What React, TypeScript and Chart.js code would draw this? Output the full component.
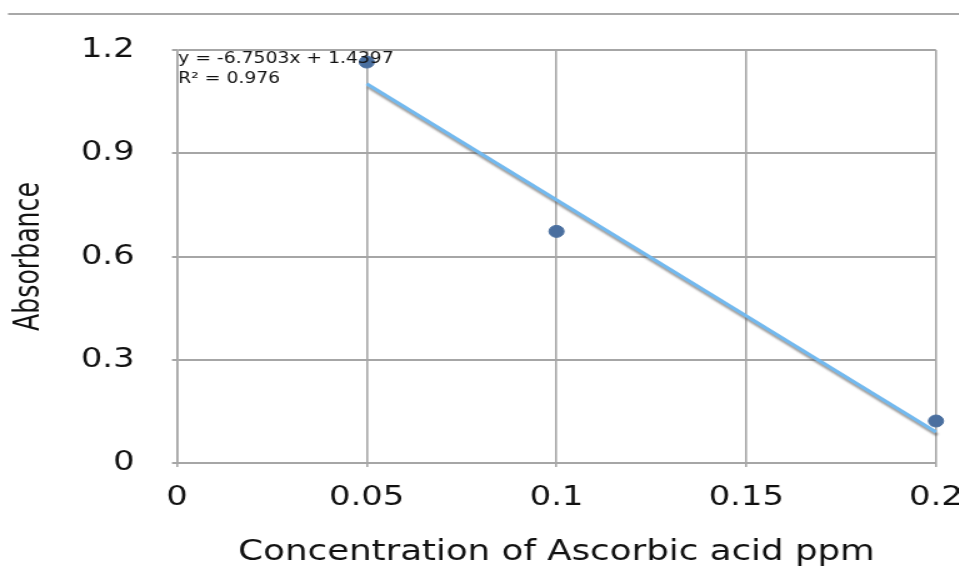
import { useEffect, useRef } from "react";
import { Chart, registerables } from "chart.js";

Chart.register(...registerables);

// ---- data ----
const concentration = [0.05, 0.1, 0.2];
const absorbance = [1.165, 0.673, 0.122];
const trendX = [0.05, 0.2];
const trendY = [1.102, 0.09];
const xTicks = [0, 0.05, 0.1, 0.15, 0.2];
const yTicks = [0, 0.3, 0.6, 0.9, 1.2];
const equationLines = ["y = -6.7503x + 1.4397", "R² = 0.976"];
const xTitle = "Concentration of Ascorbic acid ppm";
const yTitle = "Absorbance";

const PAGE_W = 959;
const PAGE_H = 568;
const STRETCH = 1.25;
const INNER_W = PAGE_W / STRETCH;

const GRID = "#a6a6a6";
const TEXT = "#111111";

const decor = {
  id: "decor",
  beforeDraw(chart: any) {
    const ctx = chart.ctx;
    ctx.save();
    ctx.strokeStyle = "#a8a8a8";
    ctx.lineWidth = 2;
    ctx.beginPath();
    ctx.moveTo(8 / STRETCH, 14);
    ctx.lineTo(chart.width, 14);
    ctx.stroke();
    ctx.restore();
  },
  beforeDatasetDraw(chart: any, args: any) {
    if (args.index === 1) {
      const ctx = chart.ctx;
      ctx.save();
      ctx.shadowColor = "rgba(90,90,90,0.6)";
      ctx.shadowOffsetX = 1;
      ctx.shadowOffsetY = 3;
      ctx.shadowBlur = 2;
    }
  },
  afterDatasetDraw(chart: any, args: any) {
    if (args.index === 1) chart.ctx.restore();
  },
  afterDraw(chart: any) {
    const ctx = chart.ctx;
    const a = chart.chartArea;
    ctx.save();
    ctx.fillStyle = TEXT;
    ctx.font = "15px 'DejaVu Sans'";
    ctx.textAlign = "left";
    ctx.textBaseline = "middle";
    equationLines.forEach((t, i) => ctx.fillText(t, a.left + 1, a.top + 9 + i * 20));
    ctx.restore();
  },
};

export default function App() {
  const ref = useRef<HTMLCanvasElement | null>(null);

  useEffect(() => {
    if (!ref.current) return;
    Chart.defaults.font.family = "'DejaVu Sans', sans-serif";
    const chart = new Chart(ref.current, {
      type: "scatter",
      data: {
        datasets: [
          {
            label: "Absorbance",
            data: concentration.map((x, i) => ({ x, y: absorbance[i] })),
            backgroundColor: "#4a6f9f",
            borderColor: "#4a6f9f",
            pointRadius: 6,
            pointHoverRadius: 6,
            clip: false,
          },
          {
            label: "Linear",
            data: trendX.map((x, i) => ({ x, y: trendY[i] })),
            showLine: true,
            borderColor: "#72b9ef",
            borderWidth: 3,
            pointRadius: 0,
            clip: false,
          },
        ],
      },
      options: {
        animation: false,
        responsive: true,
        maintainAspectRatio: false,
        layout: { padding: { top: 50, right: 18.4, left: 0, bottom: 0 } },
        plugins: { legend: { display: false }, tooltip: { enabled: false } },
        scales: {
          x: {
            type: "linear",
            min: 0,
            max: 0.2,
            afterBuildTicks: (s: any) => {
              s.ticks = xTicks.map((v) => ({ value: v }));
            },
            afterFit: (s: any) => {
              s.height = 105;
              s.paddingLeft = 0;
              s.paddingRight = 0;
            },
            ticks: {
              autoSkip: false,
              maxRotation: 0,
              padding: 15,
              color: TEXT,
              font: { size: 27 },
              callback: (v: any) => String(v),
            },
            grid: { color: GRID, lineWidth: 1.6, tickLength: 4, drawTicks: true },
            border: { display: true, color: GRID, width: 2 },
            title: {
              display: true,
              text: xTitle,
              color: TEXT,
              font: { size: 28.5, lineHeight: 1 },
              padding: { top: 0, bottom: 1 },
            },
          },
          y: {
            type: "linear",
            min: 0,
            max: 1.2,
            afterBuildTicks: (s: any) => {
              s.ticks = yTicks.map((v) => ({ value: v }));
            },
            afterFit: (s: any) => {
              s.width = 141.6;
              s.paddingTop = 0;
              s.paddingBottom = 0;
            },
            ticks: {
              padding: 30,
              color: TEXT,
              font: { size: 27 },
              callback: (v: any) => String(v),
            },
            grid: { color: GRID, lineWidth: 2, tickLength: 4, drawTicks: true },
            border: { display: true, color: GRID, width: 1.6 },
            title: {
              display: true,
              text: yTitle,
              color: TEXT,
              font: { size: 28, lineHeight: 1, family: "'DejaVu Sans Condensed', 'Liberation Sans Narrow', 'DejaVu Sans'" },
              padding: { top: 10, bottom: 0 },
            },
          },
        },
      },
      plugins: [decor],
    });
    return () => chart.destroy();
  }, []);

  return (
    <div
      style={{
        position: "fixed",
        left: 0,
        top: 0,
        width: PAGE_W,
        height: PAGE_H,
        overflow: "hidden",
        background: "#fff",
      }}
    >
      <div
        style={{
          width: INNER_W,
          height: PAGE_H,
          transform: `scaleX(${STRETCH})`,
          transformOrigin: "0 0",
        }}
      >
        <canvas ref={ref} />
      </div>
    </div>
  );
}
